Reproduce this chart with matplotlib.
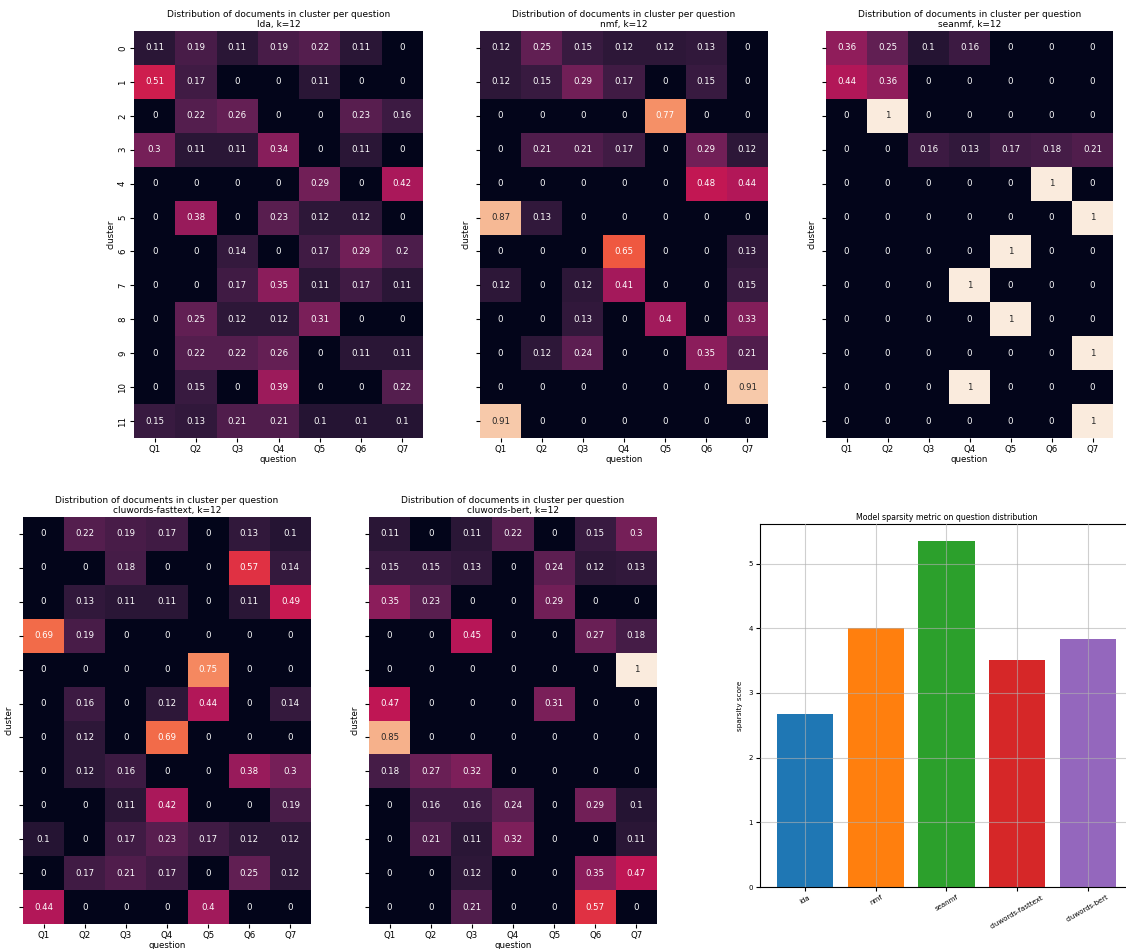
import matplotlib
matplotlib.use('Agg')
import matplotlib.pyplot as plt
import numpy as np
import seaborn as sns

questions = ['Q1', 'Q2', 'Q3', 'Q4', 'Q5', 'Q6', 'Q7']
clusters = list(range(12))

lda = [
    [0.11, 0.19, 0.11, 0.19, 0.22, 0.11, 0],
    [0.51, 0.17, 0, 0, 0.11, 0, 0],
    [0, 0.22, 0.26, 0, 0, 0.23, 0.16],
    [0.3, 0.11, 0.11, 0.34, 0, 0.11, 0],
    [0, 0, 0, 0, 0.29, 0, 0.42],
    [0, 0.38, 0, 0.23, 0.12, 0.12, 0],
    [0, 0, 0.14, 0, 0.17, 0.29, 0.2],
    [0, 0, 0.17, 0.35, 0.11, 0.17, 0.11],
    [0, 0.25, 0.12, 0.12, 0.31, 0, 0],
    [0, 0.22, 0.22, 0.26, 0, 0.11, 0.11],
    [0, 0.15, 0, 0.39, 0, 0, 0.22],
    [0.15, 0.13, 0.21, 0.21, 0.1, 0.1, 0.1],
]
nmf = [
    [0.12, 0.25, 0.15, 0.12, 0.12, 0.13, 0],
    [0.12, 0.15, 0.29, 0.17, 0, 0.15, 0],
    [0, 0, 0, 0, 0.77, 0, 0],
    [0, 0.21, 0.21, 0.17, 0, 0.29, 0.12],
    [0, 0, 0, 0, 0, 0.48, 0.44],
    [0.87, 0.13, 0, 0, 0, 0, 0],
    [0, 0, 0, 0.65, 0, 0, 0.13],
    [0.12, 0, 0.12, 0.41, 0, 0, 0.15],
    [0, 0, 0.13, 0, 0.4, 0, 0.33],
    [0, 0.12, 0.24, 0, 0, 0.35, 0.21],
    [0, 0, 0, 0, 0, 0, 0.91],
    [0.91, 0, 0, 0, 0, 0, 0],
]
seanmf = [
    [0.36, 0.25, 0.1, 0.16, 0, 0, 0],
    [0.44, 0.36, 0, 0, 0, 0, 0],
    [0, 1, 0, 0, 0, 0, 0],
    [0, 0, 0.16, 0.13, 0.17, 0.18, 0.21],
    [0, 0, 0, 0, 0, 1, 0],
    [0, 0, 0, 0, 0, 0, 1],
    [0, 0, 0, 0, 1, 0, 0],
    [0, 0, 0, 1, 0, 0, 0],
    [0, 0, 0, 0, 1, 0, 0],
    [0, 0, 0, 0, 0, 0, 1],
    [0, 0, 0, 1, 0, 0, 0],
    [0, 0, 0, 0, 0, 0, 1],
]
cluwords_fasttext = [
    [0, 0.22, 0.19, 0.17, 0, 0.13, 0.1],
    [0, 0, 0.18, 0, 0, 0.57, 0.14],
    [0, 0.13, 0.11, 0.11, 0, 0.11, 0.49],
    [0.69, 0.19, 0, 0, 0, 0, 0],
    [0, 0, 0, 0, 0.75, 0, 0],
    [0, 0.16, 0, 0.12, 0.44, 0, 0.14],
    [0, 0.12, 0, 0.69, 0, 0, 0],
    [0, 0.12, 0.16, 0, 0, 0.38, 0.3],
    [0, 0, 0.11, 0.42, 0, 0, 0.19],
    [0.1, 0, 0.17, 0.23, 0.17, 0.12, 0.12],
    [0, 0.17, 0.21, 0.17, 0, 0.25, 0.12],
    [0.44, 0, 0, 0, 0.4, 0, 0],
]
cluwords_bert = [
    [0.11, 0, 0.11, 0.22, 0, 0.15, 0.3],
    [0.15, 0.15, 0.13, 0, 0.24, 0.12, 0.13],
    [0.35, 0.23, 0, 0, 0.29, 0, 0],
    [0, 0, 0.45, 0, 0, 0.27, 0.18],
    [0, 0, 0, 0, 0, 0, 1],
    [0.47, 0, 0, 0, 0.31, 0, 0],
    [0.85, 0, 0, 0, 0, 0, 0],
    [0.18, 0.27, 0.32, 0, 0, 0, 0],
    [0, 0.16, 0.16, 0.24, 0, 0.29, 0.1],
    [0, 0.21, 0.11, 0.32, 0, 0, 0.11],
    [0, 0, 0.12, 0, 0, 0.35, 0.47],
    [0, 0, 0.21, 0, 0, 0.57, 0],
]

models = ['lda', 'nmf', 'seanmf', 'cluwords-fasttext', 'cluwords-bert']
sparsity = [2.67, 4.0, 5.345, 3.503, 3.837]

fig = plt.figure(figsize=(11.26, 9.49), dpi=100)

W, H = 1126, 949
def px_axes(x0, y0, x1, y1):
    return fig.add_axes([x0 / W, 1 - y1 / H, (x1 - x0) / W, (y1 - y0) / H])

boxes = [
    (134, 31, 423, 438),
    (480, 31, 768, 438),
    (826, 31, 1113, 438),
    (23, 517, 311, 924),
    (369, 517, 657, 924),
]
mats = [lda, nmf, seanmf, cluwords_fasttext, cluwords_bert]

fs = 6.2
for i, (name, mat, box) in enumerate(zip(models, mats, boxes)):
    ax = px_axes(*box)
    sns.heatmap(np.array(mat), ax=ax, annot=True, cbar=False, vmin=0, vmax=1,
                annot_kws={'fontsize': fs}, xticklabels=questions,
                yticklabels=clusters)
    ax.set_title('Distribution of documents in cluster per question\n%s, k=12' % name,
                 fontsize=6.5, pad=3, linespacing=1.15)
    ax.set_xlabel('question', fontsize=fs, labelpad=1)
    ax.set_ylabel('cluster', fontsize=fs, labelpad=2)
    ax.tick_params(labelsize=fs, length=3, pad=2)
    if i == 0:
        ax.set_yticklabels(clusters, rotation=90, fontsize=fs)
    else:
        ax.set_yticklabels([])

# sparsity bar plot
bx = px_axes(760, 524, 1133, 887)
colors = plt.rcParams['axes.prop_cycle'].by_key()['color'][:5]
bx.bar(models, sparsity, color=colors, zorder=2)
bx.grid(True, zorder=3)
bx.set_axisbelow(False)
for line in bx.get_xgridlines() + bx.get_ygridlines():
    line.set_alpha(0.6)
bx.set_title('Model sparsity metric on question distribution', fontsize=5.7, pad=3)
bx.set_ylabel('sparsity score', fontsize=5.2, labelpad=4)
bx.tick_params(labelsize=5, length=3, pad=2)
plt.setp(bx.get_xticklabels(), rotation=30, ha='center')

fig.savefig('out.png', dpi=100)
